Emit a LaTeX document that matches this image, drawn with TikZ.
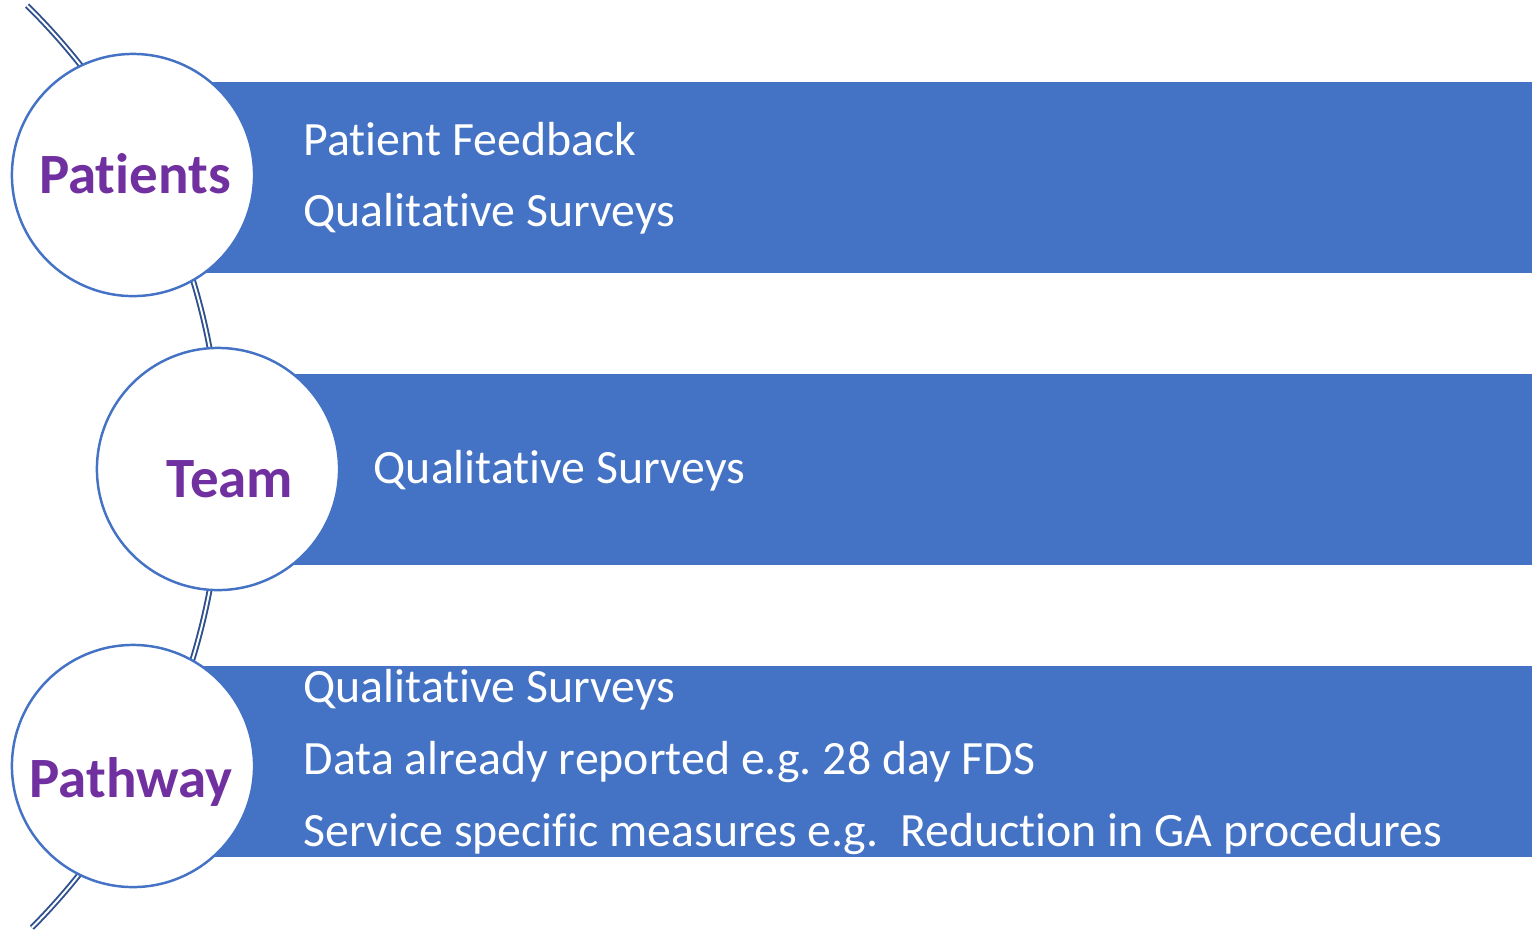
\documentclass[tikz,border=0pt]{standalone}
\usepackage{fontspec}
\setmainfont{Carlito}[RawFeature = {-liga;-clig;-calt}]
\usepackage{xcolor}
\usepackage{tikz}
\frenchspacing

\definecolor{barblue}{HTML}{4472C4}
\definecolor{arcblue}{HTML}{2F528F}
\definecolor{labelpurple}{HTML}{7030A0}

\tikzset{
	hub/.style = {circle, draw = barblue, line width = 0.7pt, fill = white, minimum size = 2.42cm, inner sep = 0pt},
	hubtext/.style = {anchor = base, text = labelpurple, font = \fontsize{16.2}{19}\selectfont\bfseries, inner sep = 0pt},
	item/.style = {anchor = base west, text = white, font = \fontsize{13.6}{16}\selectfont, inner sep = 0pt}
}

\begin{document}
\begin{tikzpicture}[x = 0.01cm, y = -0.01cm]
	\useasboundingbox (0,0) rectangle (1532,932);

	% the spine behind the three circles
	\draw [arcblue, line width = 0.55pt, double = white, double distance = 0.55pt]
		(-430,469) ++(-45.4:651) arc [start angle = -45.4, end angle = 44.8, radius = 651];

	\foreach \y in {82,374,666}
	{
		\fill [barblue] (150,\y) rectangle (1532,\y+191);
	}

	\node [hub] (patients) at (133,175) {};
	\node [hub] (team) at (218,469) {};
	\node [hub] (pathway) at (133,766) {};

	\node [hubtext] (patientslbl) at (135,193) {Patients};
	\node [hubtext] (teamlbl) at (230,497) {Team};
	\node [hubtext] (pathwaylbl) at (131,797) {Pathway};

	\node [item] (fb) at (303,155) {Patient Feedback};
	\node [item] (qs1) at (303,226) {Qualitative Surveys};

	\node [item] (qs2) at (373,483) {Qualitative Surveys};

	\node [item] (qs3) at (303,702) {Qualitative Surveys};
	\node [item] (data) at (303,774) {Data already reported e.g. 28 day FDS};
	\node [item] (svc) at (303,846) {Service specific measures e.g.\ \ Reduction in GA procedures};
\end{tikzpicture}
\end{document}
